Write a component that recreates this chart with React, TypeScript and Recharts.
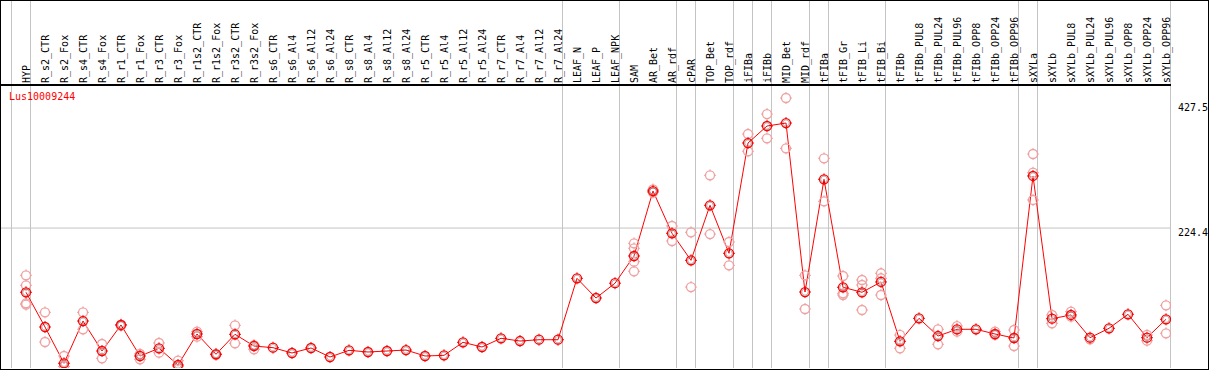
import React from 'react'
import {
    ComposedChart,
    Line,
    Scatter,
    XAxis,
    YAxis,
    ReferenceLine,
} from 'recharts'

const categories = [
    'HYP', 'R_s2_CTR', 'R_s2_Fox', 'R_s4_CTR', 'R_s4_Fox', 'R_r1_CTR', 'R_r1_Fox',
    'R_r3_CTR', 'R_r3_Fox', 'R_r1s2_CTR', 'R_r1s2_Fox', 'R_r3s2_CTR', 'R_r3s2_Fox',
    'R_s6_CTR', 'R_s6_Al4', 'R_s6_Al12', 'R_s6_Al24', 'R_s8_CTR', 'R_s8_Al4',
    'R_s8_Al12', 'R_s8_Al24', 'R_r5_CTR', 'R_r5_Al4', 'R_r5_Al12', 'R_r5_Al24',
    'R_r7_CTR', 'R_r7_Al4', 'R_r7_Al12', 'R_r7_Al24', 'LEAF_N', 'LEAF_P', 'LEAF_NPK',
    'SAM', 'AR_Bet', 'AR_rdf', 'cPAR', 'TOP_Bet', 'TOP_rdf', 'iFIBa', 'iFIBb',
    'MID_Bet', 'MID_rdf', 'tFIBa', 'tFIB_Gr', 'tFIB_Li', 'tFIB_Bi', 'tFIBb',
    'tFIBb_PUL8', 'tFIBb_PUL24', 'tFIBb_PUL96', 'tFIBb_OPP8', 'tFIBb_OPP24', 'tFIBb_OPP96',
    'sXYLa', 'sXYLb', 'sXYLb_PUL8', 'sXYLb_PUL24', 'sXYLb_PUL96', 'sXYLb_OPP8',
    'sXYLb_OPP24', 'sXYLb_OPP96',
]

// mean expression per sample
const means = [
    120.3, 64.0, 5.2, 73.7, 25.1, 67.3, 17.0,
    29.5, 2.4, 52.7, 19.8, 52.2, 33.2,
    30.5, 21.9, 30.0, 15.4, 26.2, 23.5,
    25.1, 26.7, 17.0, 18.1, 39.2, 31.6,
    45.7, 41.3, 43.4, 43.4, 142.9, 111.0, 135.0,
    179.1, 284.4, 215.9, 172.1, 261.3, 183.5, 362.2, 389.8,
    394.6, 120.7, 303.4, 128.4, 120.3, 137.0, 40.8,
    78.1, 49.4, 60.3, 60.3, 52.7, 46.2,
    308.8, 77.5, 83.5, 46.7, 61.9, 84.6,
    46.7, 76.5,
]

// individual replicates (same order as categories)
const replicates: number[][] = [
    [147.8, 131.6, 102.4, 100.2], [87.8, 39.7], [17.0, 0], [87.8, 60.3], [36.5, 13.3], [68, 66], [20.3, 11.7],
    [38.1, 22.4], [9.4, 0], [56.4, 48.3], [20.5, 19], [66.8, 37.6], [34.8, 27.9],
    [], [], [], [], [], [],
    [], [], [], [], [], [],
    [], [], [], [], [], [], [],
    [199.7, 191.6, 169.9, 154.3], [287, 282], [227.7, 203.4], [217.5, 128.8], [309.9, 214.7], [201.8, 164.0], [376.8, 348.8], [409.2, 369.8],
    [435.2, 353.6], [147.8, 93.2], [337.4, 267.7], [146.7, 118.6, 115.9], [140.2, 132.1, 91.6], [151.1, 143.0, 115.9], [51.1, 29.5],
    [], [60.3, 36.0], [65.6, 56.4], [], [56.4, 51.1], [59.2, 33.2],
    [344.4, 314.1, 269.9], [83.5, 70.0], [88.8, 80.7], [44.1], [], [],
    [51.1, 41.8], [99.2, 53.8],
]

const yTicks = [0, 224.4, 427.5]
// index of the sample after which a group separator is drawn
const groupEnds = [-1, 0, 28, 31, 34, 35, 37, 38, 39, 41, 42, 45, 52, 53, 60]

const FONT = '"DejaVu Sans Mono", monospace'

const meanData = categories.map((name, i) => ({ x: i, name, mean: means[i] }))
const repData = replicates.flatMap((reps, i) => reps.map((v) => ({ x: i, rep: v })))

function Marker({ cx, cy, color }: { cx: number, cy: number, color: string }) {
    return (
        <g>
            <circle cx={cx} cy={cy} r={4.5} fill="none" stroke={color} strokeWidth={1.3} />
            <line x1={cx} y1={cy - 6} x2={cx} y2={cy - 4} stroke={color} />
            <line x1={cx} y1={cy + 4} x2={cx} y2={cy + 6} stroke={color} />
            <line x1={cx - 6} y1={cy} x2={cx - 4} y2={cy} stroke={color} />
            <line x1={cx + 4} y1={cy} x2={cx + 6} y2={cy} stroke={color} />
        </g>
    )
}

function MeanDot(props: any) {
    const { cx, cy, index } = props
    if (cx == null || cy == null) return <g key={index} />
    return (
        <g key={index}>
            <Marker cx={cx} cy={cy} color="#ff0000" />
            <circle cx={cx} cy={cy} r={3.2} fill="none" stroke="#000" strokeWidth={0.6} strokeOpacity={0.5} />
        </g>
    )
}

function HeaderTick(props: any) {
    const { x, payload } = props
    return (
        <text
            transform={`translate(${x + 4},83) rotate(-90)`}
            fontFamily={FONT}
            fontSize={10}
            fill="#000"
        >
            {categories[payload.value]}
        </text>
    )
}

function RightTick(props: any) {
    const { y, payload } = props
    return (
        <text x={1178} y={Math.min(y + 8, 366)} fontFamily={FONT} fontSize={10} fill="#000">
            {payload.value}
        </text>
    )
}

export default function App() {
    return (
        <div style={{ position: 'relative', width: 1209, height: 370, background: '#fff' }}>
            <style>{'body{margin:0}'}</style>
            <ComposedChart
                width={1209}
                height={370}
                data={meanData}
                margin={{ top: 0, right: 0, bottom: 2, left: 1 }}
            >
                <XAxis
                    type="number"
                    dataKey="x"
                    domain={[-1.316, 60.263]}
                    allowDataOverflow
                    orientation="top"
                    height={1}
                    ticks={categories.map((_, i) => i)}
                    interval={0}
                    axisLine={false}
                    tickLine={false}
                    tick={(p: any) => <HeaderTick {...p} />}
                />
                <YAxis
                    orientation="right"
                    width={38}
                    domain={[-2.43, 592.4]}
                    allowDataOverflow
                    ticks={yTicks}
                    axisLine={false}
                    tickLine={false}
                    tick={(p: any) => <RightTick {...p} />}
                />
                {groupEnds.map((g) => (
                    <ReferenceLine key={`g-${g}`} x={g + 0.237} stroke="#c4c4c4" ifOverflow="visible" />
                ))}
                <ReferenceLine y={224.4} stroke="#c4c4c4" />
                <ReferenceLine y={456.2} stroke="#000" strokeWidth={2} />
                <Scatter
                    data={repData}
                    dataKey="rep"
                    isAnimationActive={false}
                    shape={(p: any) => <Marker cx={p.cx} cy={p.cy} color="#f0a0a0" />}
                />
                <Line
                    type="linear"
                    dataKey="mean"
                    stroke="#ff0000"
                    strokeWidth={1}
                    dot={MeanDot}
                    activeDot={false}
                    isAnimationActive={false}
                />
            </ComposedChart>
            <span
                style={{
                    position: 'absolute', left: 9, top: 92, fontFamily: FONT,
                    fontSize: 10, lineHeight: '10px', color: '#ff0000',
                }}
            >
                Lus10009244
            </span>
            <div
                style={{
                    position: 'absolute', left: 0, top: 0, width: 1209, height: 370,
                    border: '1px solid #000', boxSizing: 'border-box', pointerEvents: 'none',
                }}
            />
        </div>
    )
}
